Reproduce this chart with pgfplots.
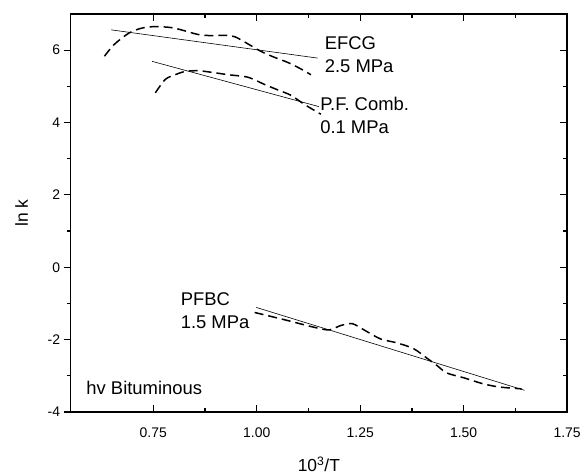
\documentclass[border=0pt]{standalone}
\usepackage{pgfplots}
\pgfplotsset{compat=1.18}
\usepackage{fontspec}
\setmainfont{Liberation Sans}
\begin{document}
\begin{tikzpicture}
\pgfplotsset{
  common/.style={
    width=499pt, height=400pt, scale only axis,
    xmin=0.55, xmax=1.75, ymin=-4, ymax=7,
    /pgf/number format/assume math mode=true,
    tick label style={font=\fontsize{14}{16}\selectfont},
    label style={font=\fontsize{17.5}{20}\selectfont},
    major tick length=7pt, minor tick length=4pt,
    tick style={line width=1.2pt, black},
  }
}
\begin{axis}[common,
  axis line style={line width=1.5pt},
  tick align=inside,
  xtick={0.75,1.0,1.25,1.5,1.75},
  xticklabels={0.75,1.00,1.25,1.50,1.75},
  minor x tick num=1,
  xtick pos=both,
  ytick={-4,-2,0,2,4,6}, minor y tick num=1,
  ytick pos=right, yticklabels={},
  xticklabel style={yshift=-12pt},
  xlabel={10$^{\mathrm{3}}$/T},
  xlabel style={yshift=-13pt},
  clip=false,
]
% invisible frame for page size
\path (rel axis cs:-0.142,-0.1525) rectangle (rel axis cs:1.028,1.035);
% EFCG
\addplot[black, line width=0.6pt] coordinates {(0.648,6.56) (1.147,5.78)};
\addplot[black, line width=1.5pt, dash pattern=on 9pt off 5pt, smooth, tension=0.5] coordinates {
(0.632,5.83) (0.655,6.15) (0.691,6.47) (0.723,6.61) (0.755,6.65) (0.795,6.62)
(0.827,6.53) (0.859,6.43) (0.891,6.40) (0.923,6.41) (0.947,6.37) (0.979,6.17)
(1.011,5.96) (1.043,5.80) (1.075,5.66) (1.105,5.49) (1.131,5.32)};
% P.F. Comb.
\addplot[black, line width=0.6pt] coordinates {(0.747,5.69) (1.150,4.44)};
\addplot[black, line width=1.5pt, dash pattern=on 9pt off 5pt, smooth, tension=0.5] coordinates {
(0.755,4.82) (0.779,5.19) (0.803,5.32) (0.827,5.41) (0.859,5.43) (0.895,5.38)
(0.931,5.32) (0.979,5.25) (1.019,5.05) (1.051,4.90) (1.083,4.75) (1.115,4.50) (1.155,4.23)};
% PFBC
\addplot[black, line width=0.6pt] coordinates {(0.999,-1.11) (1.647,-3.40)};
\addplot[black, line width=1.5pt, dash pattern=on 9pt off 5pt, smooth, tension=0.5] coordinates {
(0.995,-1.25) (1.067,-1.45) (1.139,-1.66) (1.175,-1.73) (1.203,-1.61) (1.231,-1.56)
(1.259,-1.73) (1.299,-1.98) (1.339,-2.09) (1.379,-2.25) (1.411,-2.51) (1.435,-2.71)
(1.459,-2.92) (1.499,-3.05) (1.547,-3.22) (1.587,-3.31) (1.640,-3.36)};
\begin{scope}[every node/.style={anchor=base west, inner sep=0pt, font=\fontsize{18.5}{22}\selectfont}]
\node at (axis cs:1.164,6.01) {EFCG};
\node at (axis cs:1.164,5.38) {2.5 MPa};
\node at (axis cs:1.153,4.32) {P.F. Comb.};
\node at (axis cs:1.153,3.69) {0.1 MPa};
\node at (axis cs:0.816,-1.05) {PFBC};
\node at (axis cs:0.816,-1.68) {1.5 MPa};
\node at (axis cs:0.588,-3.51) {hv Bituminous};
\end{scope}
\end{axis}
\begin{axis}[common,
  axis x line=none, axis y line*=left,
  axis line style={draw=none},
  tick align=outside,
  ytick={-4,-2,0,2,4,6}, minor y tick num=1,
  ylabel={ln k},
  ylabel style={yshift=13pt},
]
\end{axis}
\end{tikzpicture}
\end{document}
